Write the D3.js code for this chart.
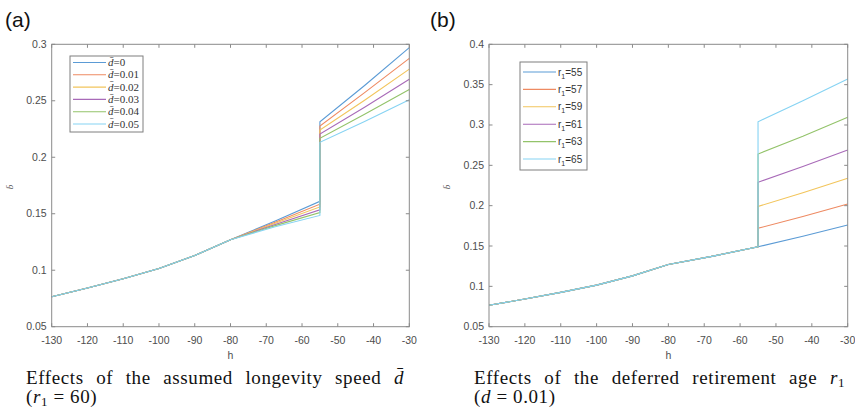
<!DOCTYPE html>
<html lang="en">
<head>
<meta charset="UTF-8">
<title>Effects on b-bar</title>
<style>
  body { margin: 0; background: #fff; }
  svg { display: block; }
  .tick-label { font-family: "Liberation Sans", Arial, sans-serif; font-size: 10.5px; fill: #4d4d4d; }
  .caption { font-family: "Liberation Serif", "DejaVu Serif", serif; font-size: 19px; letter-spacing: 0.6px; fill: #111; }
  .panel-tag { font-family: "Liberation Sans", Arial, sans-serif; font-size: 21px; fill: #111; }
</style>
</head>
<body>
<svg id="chart" width="855" height="416"></svg>
<script src="https://cdn.jsdelivr.net/npm/d3@7"></script>
<script>
// ---- data ----
const xTicks = [-130, -120, -110, -100, -90, -80, -70, -60, -50, -40, -30];
const yTicksA = [0.05, 0.1, 0.15, 0.2, 0.25, 0.3];
const yTicksB = [0.05, 0.1, 0.15, 0.2, 0.25, 0.3, 0.35, 0.4];

// shared part of every curve (h = -130 ... -80)
const hCommon = [-130, -120, -110, -100, -90, -80];
const bCommon = [0.0765, 0.0843, 0.0925, 0.1015, 0.1130, 0.1270];

// panel (a): longevity speed d-bar
const dLabels = ["0", "0.01", "0.02", "0.03", "0.04", "0.05"];
const hPreA = [-67.5, -55];
const bPreA = [
  [0.1435, 0.1610],
  [0.1425, 0.1585],
  [0.1415, 0.1560],
  [0.1405, 0.1535],
  [0.1395, 0.1510],
  [0.1385, 0.1485]
];
const hPost = [-55, -42.5, -30];
const bPostA = [
  [0.2314, 0.2635, 0.2970],
  [0.2277, 0.2572, 0.2875],
  [0.2241, 0.2505, 0.2780],
  [0.2205, 0.2442, 0.2690],
  [0.2168, 0.2380, 0.2600],
  [0.2132, 0.2316, 0.2510]
];

// panel (b): retirement age r1
const rLabels = ["55", "57", "59", "61", "63", "65"];
const hPreB = [-67.5, -55];
const bPreB = [0.1375, 0.1490];
const bPostB = [
  [0.1490, 0.1620, 0.1760],
  [0.1720, 0.1865, 0.2020],
  [0.1990, 0.2160, 0.2340],
  [0.2290, 0.2485, 0.2690],
  [0.2640, 0.2860, 0.3095],
  [0.3040, 0.3300, 0.3570]
];

const colors = ["#5b9bd5", "#ee8a62", "#f2c55c", "#a86ab8", "#93c36a", "#86d3f3"];

// build the point lists of each series
function buildSeries(preH, preVals, postVals) {
  const pts = hCommon.map((h, i) => [h, bCommon[i]]);
  preH.forEach((h, i) => pts.push([h, preVals[i]]));
  hPost.forEach((h, i) => pts.push([h, postVals[i]]));
  return pts;
}
const seriesA = dLabels.map((d, i) => buildSeries(hPreA, bPreA[i], bPostA[i]));
const seriesB = rLabels.map((r, i) => buildSeries(hPreB, bPreB, bPostB[i]));

const svg = d3.select("#chart");

function drawPanel(opt) {
  const x = d3.scaleLinear().domain([-130, -30]).range([opt.left, opt.right]);
  const y = d3.scaleLinear().domain(opt.yDomain).range([326.7, 44.3]);
  const g = svg.append("g");

  // lines
  const line = d3.line().x(d => x(d[0])).y(d => y(d[1]));
  g.selectAll(".series")
    .data(opt.series)
    .enter().append("path")
    .attr("d", line)
    .attr("fill", "none")
    .attr("stroke", (d, i) => colors[i])
    .attr("stroke-width", 1.1);

  // box
  g.append("rect")
    .attr("x", opt.left).attr("y", y.range()[1])
    .attr("width", opt.right - opt.left)
    .attr("height", y.range()[0] - y.range()[1])
    .attr("fill", "none").attr("stroke", "#8a8a8a").attr("stroke-width", 1);

  // inward ticks on all four sides
  const tl = 3.5;
  xTicks.forEach(t => {
    g.append("line").attr("x1", x(t)).attr("x2", x(t)).attr("y1", y.range()[0]).attr("y2", y.range()[0] - tl).attr("stroke", "#8a8a8a");
    g.append("line").attr("x1", x(t)).attr("x2", x(t)).attr("y1", y.range()[1]).attr("y2", y.range()[1] + tl).attr("stroke", "#8a8a8a");
    g.append("text").attr("class", "tick-label")
      .attr("x", x(t)).attr("y", 344).attr("text-anchor", "middle").text(t);
  });
  opt.yTicks.forEach(t => {
    g.append("line").attr("x1", opt.left).attr("x2", opt.left + tl).attr("y1", y(t)).attr("y2", y(t)).attr("stroke", "#8a8a8a");
    g.append("line").attr("x1", opt.right).attr("x2", opt.right - tl).attr("y1", y(t)).attr("y2", y(t)).attr("stroke", "#8a8a8a");
    g.append("text").attr("class", "tick-label")
      .attr("x", opt.left - 5).attr("y", y(t) + 3.5).attr("text-anchor", "end").text(t);
  });

  // axis labels
  g.append("text").attr("class", "tick-label")
    .attr("x", (opt.left + opt.right) / 2).attr("y", 359).attr("text-anchor", "middle").text("h");
  g.append("text")
    .attr("transform", `translate(${opt.left - 39},187) rotate(-90)`)
    .attr("text-anchor", "middle")
    .attr("font-family", "Liberation Serif, serif").attr("font-style", "italic")
    .attr("font-size", 9).attr("fill", "#555")
    .text("b\u0304");

  // legend
  const lg = g.append("g");
  lg.append("rect")
    .attr("x", opt.legend.x).attr("y", opt.legend.y)
    .attr("width", opt.legend.w).attr("height", opt.legend.h)
    .attr("fill", "#fff").attr("stroke", "#7f7f7f").attr("stroke-width", 1);
  opt.labels.forEach((lab, i) => {
    const ly = opt.legend.y0 + i * opt.legend.step;
    lg.append("line")
      .attr("x1", opt.legend.x + 3).attr("x2", opt.legend.x + opt.legend.lineW)
      .attr("y1", ly).attr("y2", ly)
      .attr("stroke", colors[i]).attr("stroke-width", 1.1);
    const t = lg.append("text")
      .attr("x", opt.legend.x + opt.legend.lineW + 2).attr("y", ly + 3.5)
      .attr("fill", "#333");
    opt.legendText(t, lab);
  });

  // panel tag
  svg.append("text").attr("class", "panel-tag").attr("x", opt.tagX).attr("y", 27).text(opt.tag);

  // caption (two lines), words spread to the measured width
  opt.caption.forEach((parts, li) => {
    const t = svg.append("text").attr("class", "caption")
      .attr("x", opt.capX).attr("y", 384 + li * 19);
    parts(t);
    if (li === 0) {
      const w = t.node().getComputedTextLength();
      const gaps = t.text().split(" ").length - 1;
      t.attr("word-spacing", Math.max(0, (opt.capW - w) / gaps));
    }
  });
}

drawPanel({
  left: 51.7, right: 409.3,
  yDomain: [0.05, 0.3], yTicks: yTicksA,
  series: seriesA, labels: dLabels,
  legend: { x: 70, y: 56, w: 73, h: 76, y0: 62.5, step: 12.3, lineW: 36 },
  legendText: (t, lab) => {
    t.attr("font-family", "Liberation Serif, serif").attr("font-size", 11);
    t.append("tspan").attr("font-style", "italic").text("d\u0304");
    t.append("tspan").text("=" + lab);
  },
  tag: "(a)", tagX: 5,
  capX: 26, capW: 378,
  caption: [
    t => { t.append("tspan").text("Effects of the assumed longevity speed ");
           t.append("tspan").attr("font-style", "italic").text("d\u0304"); },
    t => { t.append("tspan").text("(");
           t.append("tspan").attr("font-style", "italic").text("r");
           t.append("tspan").attr("font-size", 13).attr("dy", 3).text("1");
           t.append("tspan").attr("dy", -3).text(" = 60)"); }
  ]
});

drawPanel({
  left: 489, right: 847.7,
  yDomain: [0.05, 0.4], yTicks: yTicksB,
  series: seriesB, labels: rLabels,
  legend: { x: 520, y: 62, w: 67, h: 108, y0: 72, step: 17.4, lineW: 36 },
  legendText: (t, lab) => {
    t.attr("font-family", "Liberation Sans, Arial, sans-serif").attr("font-size", 10);
    t.append("tspan").text("r");
    t.append("tspan").attr("font-size", 7).attr("dy", 3).text("1");
    t.append("tspan").attr("dy", -3).text("=" + lab);
  },
  tag: "(b)", tagX: 430,
  capX: 474, capW: 371,
  caption: [
    t => { t.append("tspan").text("Effects of the deferred retirement age ");
           t.append("tspan").attr("font-style", "italic").text("r");
           t.append("tspan").attr("font-size", 13).attr("dy", 3).text("1"); },
    t => { t.append("tspan").text("(");
           t.append("tspan").attr("font-style", "italic").text("d");
           t.append("tspan").text(" = 0.01)"); }
  ]
});
</script>
</body>
</html>
